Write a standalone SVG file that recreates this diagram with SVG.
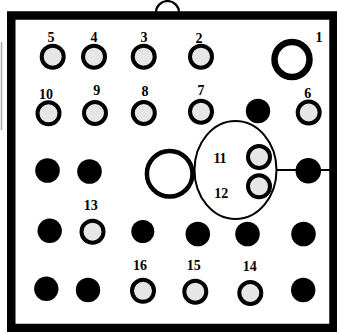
<svg xmlns="http://www.w3.org/2000/svg" width="337" height="332" viewBox="0 0 337 332">
<style>
.o{fill:#e6e6e6;stroke:#000;stroke-width:4}
.f{fill:#000}
.t{font-family:"Liberation Serif","Times New Roman",serif;font-weight:bold;font-size:14px;fill:#000;text-anchor:middle}
</style>
<rect width="337" height="332" fill="#fff"/>
<g id="frame">
<line x1="1.5" y1="42" x2="1.5" y2="130" stroke="#aaa" stroke-width="1.5"/>
<path d="M156,12.5 A11.5,11.5 0 0 1 179,12.5" fill="none" stroke="#000" stroke-width="2.2"/>
<rect x="11.25" y="15.5" width="322.25" height="312.5" fill="none" stroke="#000" stroke-width="8.5"/>
</g>
<g id="connectors">
<line x1="276.5" y1="170" x2="330" y2="170" stroke="#000" stroke-width="2"/>
</g>
<g id="ellipse"><ellipse cx="235.5" cy="170" rx="41" ry="49" fill="none" stroke="#000" stroke-width="2"/></g>
<g id="p1"><circle cx="292" cy="59.5" r="17.5" fill="#fff" stroke="#000" stroke-width="6.5"/><text class="t" x="319" y="42">1</text></g>
<g id="p2"><circle class="o" cx="201" cy="56.7" r="11"/><text class="t" x="199" y="42.5">2</text></g>
<g id="p3"><circle class="o" cx="143.7" cy="56.7" r="11"/><text class="t" x="144" y="42">3</text></g>
<g id="p4"><circle class="o" cx="94" cy="56.7" r="11"/><text class="t" x="94" y="42">4</text></g>
<g id="p5"><circle class="o" cx="52.7" cy="56.7" r="11"/><text class="t" x="51" y="42">5</text></g>
<g id="p6"><circle class="o" cx="308.7" cy="112.5" r="11"/><text class="t" x="307.7" y="97.5">6</text></g>
<g id="p7"><circle class="o" cx="201" cy="111.7" r="11"/><text class="t" x="201" y="95">7</text></g>
<g id="p8"><circle class="o" cx="143.8" cy="113" r="11"/><text class="t" x="145" y="96">8</text></g>
<g id="p9"><circle class="o" cx="95" cy="113" r="11"/><text class="t" x="96.7" y="95">9</text></g>
<g id="p10"><circle class="o" cx="48.5" cy="113.3" r="11"/><text class="t" x="46" y="99">10</text></g>
<g id="p11"><circle class="o" cx="259" cy="157" r="11"/><text class="t" x="220" y="162.7">11</text></g>
<g id="p12"><circle class="o" cx="259" cy="186.3" r="11"/><text class="t" x="221.3" y="197.7">12</text></g>
<g id="p13"><circle class="o" cx="92.5" cy="231.7" r="11"/><text class="t" x="90.7" y="210">13</text></g>
<g id="p14"><circle class="o" cx="250.3" cy="293" r="11"/><text class="t" x="249.7" y="271">14</text></g>
<g id="p15"><circle class="o" cx="195.3" cy="291.7" r="11"/><text class="t" x="193.7" y="270">15</text></g>
<g id="p16"><circle class="o" cx="143" cy="290.8" r="11"/><text class="t" x="140" y="270">16</text></g>
<g id="big"><circle cx="169.7" cy="173.8" r="22.8" fill="#fff" stroke="#000" stroke-width="4.5"/></g>
<g id="filled">
<circle class="f" cx="258" cy="111" r="12.2"/>
<circle class="f" cx="47.5" cy="170.5" r="12.3"/>
<circle class="f" cx="89.5" cy="171.5" r="12.3"/>
<circle class="f" cx="308.3" cy="170.8" r="12.8"/>
<circle class="f" cx="49.7" cy="230.8" r="12.2"/>
<circle class="f" cx="142.8" cy="231.5" r="11.5"/>
<circle class="f" cx="197.8" cy="234" r="12.3"/>
<circle class="f" cx="247.5" cy="234" r="12.3"/>
<circle class="f" cx="303.5" cy="234" r="12.3"/>
<circle class="f" cx="46.3" cy="288.8" r="12.2"/>
<circle class="f" cx="88" cy="290" r="12.2"/>
<circle class="f" cx="303.2" cy="290" r="12.2"/>
</g>
</svg>
